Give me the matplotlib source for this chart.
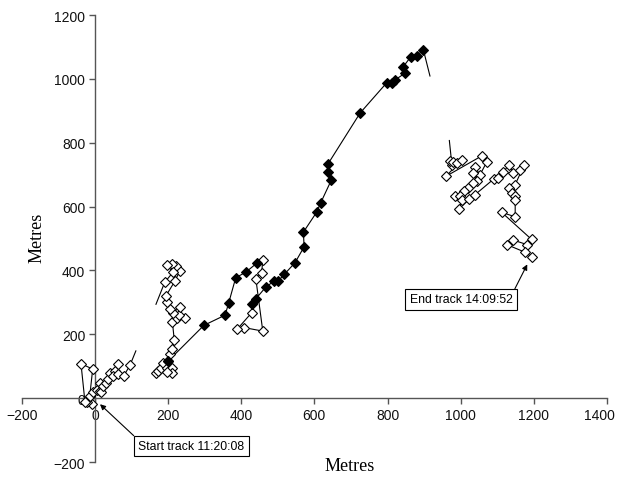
import numpy as np
import matplotlib
matplotlib.use("Agg")
import matplotlib.pyplot as plt
from matplotlib.transforms import ScaledTranslation

# track near the origin (open markers), last point is the heading line end
start_x = [-9, -21, -27, -38, -6, -14, -5, 6, 14, 18, 14, 23, 30, 36, 41, 55, 64, 50, 64, 79, 96, 112]
start_y = [-19, -12, -13, 108, 91, 7, 18, 26, 23, 18, 49, 38, 49, 61, 80, 85, 106, 70, 75, 70, 103, 148]

# cluster around x=200 (open markers), last point is the heading line end
c200_x = [167, 173, 182, 187, 196, 210, 210, 196, 201, 205, 210, 217, 212, 225, 246, 231, 234, 214,
          205, 196, 194, 219, 232, 222, 212, 196, 214, 191, 167]
c200_y = [78, 85, 96, 111, 96, 96, 80, 82, 117, 137, 155, 182, 238, 252, 252, 262, 287, 268,
          278, 301, 320, 367, 398, 413, 419, 416, 395, 363, 294]

# main track: filled part, open loop, filled part, heading line end
fillA_x = [201, 298, 356, 366, 385, 413, 444]
fillA_y = [117, 228, 260, 299, 377, 395, 424]
loop_x = [459, 456, 440, 459, 408, 389, 429]
loop_y = [432, 393, 374, 210, 221, 216, 268]
fillB_x = [429, 440, 468, 491, 501, 518, 547, 572, 570, 606, 617, 646, 637, 637, 725, 798, 812,
           821, 848, 843, 864, 880, 898]
fillB_y = [294, 311, 349, 367, 367, 388, 424, 474, 520, 582, 611, 682, 708, 733, 893, 988, 988,
           997, 1018, 1038, 1070, 1072, 1091]
head_x, head_y = 916, 1009

# cluster on the right (open markers), first point is the heading line end
end_x = [969, 976, 971, 980, 989, 1003, 960, 1058, 1071, 1053, 1039, 1035, 1044, 1033, 1021, 1008,
         985, 998, 1003, 996, 1024, 1039, 1090, 1103, 1115, 1133, 1144, 1161, 1174, 1149, 1133,
         1140, 1149, 1149, 1149, 1112, 1194, 1181, 1144, 1126, 1176, 1194]
end_y = [807, 731, 742, 739, 736, 747, 695, 759, 739, 700, 723, 705, 679, 674, 658, 648,
         632, 634, 622, 593, 624, 637, 686, 689, 707, 731, 705, 716, 731, 669, 658,
         643, 632, 622, 568, 582, 497, 481, 495, 481, 457, 443]

fig = plt.figure(figsize=(6.17, 4.81), dpi=100)
ax = fig.add_axes([0.0352, 0.0374, 0.9486, 0.9293])

lw = 0.8
ms = 4.8
open_kw = dict(marker='D', ms=ms, mfc='white', mec='black', mew=0.8, ls='none', zorder=3)
fill_kw = dict(marker='D', ms=ms, mfc='black', mec='black', mew=0.8, ls='none', zorder=3)

# start cluster
ax.plot(start_x, start_y, color='black', lw=lw, zorder=2)
ax.plot(start_x[:-1], start_y[:-1], **open_kw)

# cluster at 200
ax.plot(c200_x, c200_y, color='black', lw=lw, zorder=2)
ax.plot(c200_x[:-1], c200_y[:-1], **open_kw)

# main track
main_x = fillA_x + loop_x + fillB_x + [head_x]
main_y = fillA_y + loop_y + fillB_y + [head_y]
ax.plot(main_x, main_y, color='black', lw=lw, zorder=2)
ax.plot(loop_x, loop_y, **open_kw)
ax.plot(fillA_x, fillA_y, **fill_kw)
ax.plot(fillB_x, fillB_y, **fill_kw)

# end cluster
ax.plot(end_x, end_y, color='black', lw=lw, zorder=2)
ax.plot(end_x[1:], end_y[1:], **open_kw)

ax.set_xlim(-200, 1400)
ax.set_ylim(-200, 1200)
ax.set_xticks(np.arange(-200, 1401, 200))
ax.set_yticks(np.arange(-200, 1201, 200))

for s in ['top', 'right']:
    ax.spines[s].set_visible(False)
ax.spines['left'].set_position(('data', 0))
ax.spines['bottom'].set_position(('data', 0))
for s in ['left', 'bottom']:
    ax.spines[s].set_color('#555555')
    ax.spines[s].set_linewidth(1.0)
ax.tick_params(direction='out', length=4, width=1.0, color='#555555',
               labelsize=10, labelcolor='#111111', pad=3)
for lab in ax.get_xticklabels() + ax.get_yticklabels():
    lab.set_family('Liberation Sans')

# the last x label sits at the picture edge, nudge it in
last = ax.get_xticklabels()[-1]
last.set_transform(last.get_transform() + ScaledTranslation(-8 / 100, 0, fig.dpi_scale_trans))

box = dict(boxstyle='square,pad=0.35', fc='white', ec='black', lw=0.8)
ax.annotate('Start track 11:20:08', xy=(14, -19), xytext=(264, -150),
            ha='center', va='center', fontsize=8.8, family='Liberation Sans', bbox=box,
            arrowprops=dict(arrowstyle='-|>', color='black', lw=0.8, mutation_scale=8,
                            relpos=(0, 1), shrinkA=0, shrinkB=0))
ax.annotate('End track 14:09:52', xy=(1182, 419), xytext=(1001, 309),
            ha='center', va='center', fontsize=8.8, family='Liberation Sans', bbox=box,
            arrowprops=dict(arrowstyle='-|>', color='black', lw=0.8, mutation_scale=8,
                            relpos=(1, 1), shrinkA=0, shrinkB=0))

fig.text(350 / 617, 1 - 467 / 481, 'Metres', ha='center', va='center',
         family='Liberation Serif', fontsize=13)
fig.text(37 / 617, 1 - 238 / 481, 'Metres', ha='center', va='center', rotation=90,
         family='Liberation Serif', fontsize=13)

fig.savefig('out.png', dpi=100)
